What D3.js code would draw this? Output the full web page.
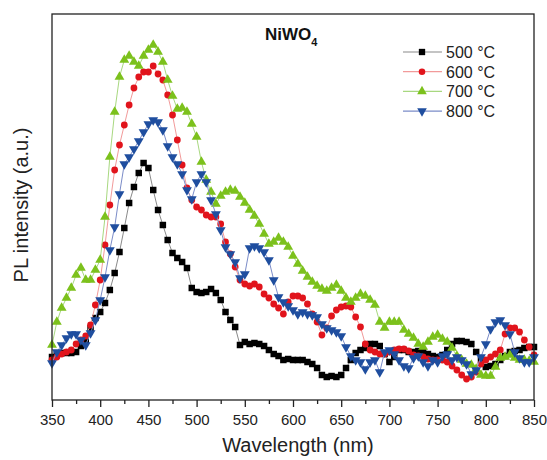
<!DOCTYPE html>
<html>
<head>
<meta charset="utf-8">
<script src="https://cdn.jsdelivr.net/npm/d3@7"></script>
<style>
  body { margin: 0; background: #fff; overflow: hidden; }
  svg { display: block; font-family: Arial, 'Liberation Sans', sans-serif; }
</style>
</head>
<body>
<div id="graf"></div>
<script>
// PL spectra NiWO4 annealed at different temperatures

// wavelength (nm), one point every 5 nm
wavelength = d3.range(350, 851, 5)

// intensity (a.u.)
s500 = [45, 47, 49, 49, 49, 50, 56, 62, 74, 84, 90, 99, 112, 129, 150, 174, 199, 215, 229, 239,
  234, 212, 192, 177, 162, 149, 144, 140, 134, 114, 110, 109, 110, 113, 109, 102, 90, 82, 75, 57,
  60, 58, 59, 58, 56, 52, 48, 46, 42, 43, 42, 42, 42, 40, 38, 34, 27, 25, 26, 25,
  27, 34, 42, 49, 52, 54, 58, 58, 56, 48, 40, 45, 52, 52, 50, 50, 51, 50, 48, 46,
  45, 47, 52, 58, 61, 61, 60, 58, 50, 42, 35, 36, 38, 42, 46, 50, 51, 52, 54, 55, 55]

s600 = [42, 45, 48, 50, 52, 58, 62, 66, 77, 97, 122, 157, 197, 232, 257, 277, 297, 314, 325, 330,
  330, 336, 328, 322, 307, 287, 262, 237, 214, 202, 195, 192, 187, 185, 185, 178, 160, 148, 135, 122,
  118, 116, 118, 115, 108, 104, 98, 94, 88, 100, 106, 106, 104, 98, 88, 80, 67, 74, 86, 92,
  95, 96, 95, 85, 75, 58, 52, 50, 48, 48, 50, 52, 53, 53, 51, 47, 46, 45, 43, 42,
  42, 42, 40, 36, 32, 27, 23, 25, 30, 38, 42, 45, 48, 52, 68, 74, 74, 70, 62, 55, 47]

s700 = [57, 80, 94, 104, 114, 127, 134, 122, 122, 132, 142, 185, 245, 290, 325, 342, 346, 340, 336, 346,
  352, 357, 350, 340, 322, 306, 293, 294, 290, 278, 265, 240, 222, 210, 198, 206, 210, 212, 211, 205,
  199, 192, 186, 178, 168, 158, 160, 164, 160, 155, 146, 138, 131, 125, 120, 116, 113, 111, 114, 117,
  111, 104, 100, 104, 108, 106, 102, 97, 80, 74, 80, 80, 80, 72, 68, 64, 58, 55, 60, 65,
  67, 63, 60, 54, 46, 42, 38, 37, 33, 27, 26, 26, 35, 44, 45, 47, 44, 42, 42, 41, 40]

s800 = [39, 50, 57, 64, 68, 68, 62, 57, 69, 82, 102, 125, 152, 175, 208, 238, 245, 253, 261, 270,
  278, 282, 280, 272, 256, 245, 238, 228, 212, 203, 220, 228, 220, 202, 188, 172, 155, 148, 140, 124,
  128, 154, 156, 154, 150, 142, 122, 105, 100, 96, 92, 88, 90, 88, 87, 85, 78, 74, 72, 70,
  66, 55, 46, 42, 40, 33, 40, 42, 30, 50, 52, 48, 42, 36, 34, 44, 46, 40, 36, 42,
  40, 46, 48, 42, 45, 42, 38, 28, 32, 45, 58, 73, 80, 82, 77, 68, 50, 44, 40, 40, 45]

labels  = ['500 °C', '600 °C', '700 °C', '800 °C']
colors  = ['#000000', '#e1141c', '#7cc11c', '#1f4e9f']
lineCol = ['#8a8a8a', '#f29a9a', '#a8d880', '#7b8cc8']
shapes  = [d3.symbolSquare, d3.symbolCircle, d3.symbolTriangle, d3.symbolTriangle]
flip    = [false, false, false, true]
xTicks  = d3.range(350, 851, 50)

series = [s500, s600, s700, s800]

ancho_total = 547
alto_total  = 460

margins = { top: 14, left: 52, right: 13, bottom: 60 }
ancho = ancho_total - margins.left - margins.right
alto  = alto_total - margins.top - margins.bottom

svg = d3.select('#graf').append('svg')
  .attr('width', ancho_total)
  .attr('height', alto_total)

g = svg.append('g')
  .attr('transform', `translate(${margins.left}, ${margins.top})`)

// scales
x = d3.scaleLinear().domain([350, 850]).range([0, ancho])
y = d3.scaleLinear().domain([2, 388]).range([alto, 0])

// curves: thin line under the markers
line = d3.line()
  .x((d, i) => x(wavelength[i]))
  .y(d => y(d))

series.forEach((s, k) => {
  g.append('path')
    .datum(s)
    .attr('d', line)
    .attr('fill', 'none')
    .attr('stroke', lineCol[k])
    .attr('stroke-width', 1)

  g.append('g')
    .selectAll('path')
    .data(s)
    .join('path')
      .attr('d', d3.symbol().type(shapes[k]).size(k == 1 ? 36 : 42))
      .attr('transform', (d, i) => `translate(${x(wavelength[i])}, ${y(d)})` + (flip[k] ? ' rotate(180)' : ''))
      .attr('fill', colors[k])
})

// frame
g.append('rect')
  .attr('x', 0)
  .attr('y', 0)
  .attr('width', ancho)
  .attr('height', alto)
  .attr('fill', 'none')
  .attr('stroke', '#222')
  .attr('stroke-width', 1.3)

// x axis, major + minor ticks outward
xAxis = d3.axisBottom(x)
  .tickValues(xTicks)
  .tickSize(7)
  .tickPadding(7)
  .tickFormat(d3.format('d'))
xMinor = d3.axisBottom(x)
  .tickValues(d3.range(375, 850, 50))
  .tickSize(4)
  .tickFormat('')

ejeX = g.append('g')
  .attr('transform', `translate(0,${alto})`)
  .call(xAxis)
ejeX.select('.domain').remove()
ejeX.selectAll('line').attr('stroke', '#222').attr('stroke-width', 1.3)
ejeX.selectAll('text')
  .attr('font-size', '15px')
  .attr('font-family', 'Arial, Liberation Sans, sans-serif')
  .attr('fill', '#222')

ejeXm = g.append('g')
  .attr('transform', `translate(0,${alto})`)
  .call(xMinor)
ejeXm.select('.domain').remove()
ejeXm.selectAll('line').attr('stroke', '#222').attr('stroke-width', 1.3)

// axis titles
svg.append('text')
  .attr('x', margins.left + ancho / 2 + 5)
  .attr('y', 452)
  .attr('text-anchor', 'middle')
  .attr('font-size', '20px')
  .attr('fill', '#222')
  .text('Wavelength (nm)')

svg.append('text')
  .attr('transform', 'translate(28, 205) rotate(-90)')
  .attr('text-anchor', 'middle')
  .attr('font-size', '20px')
  .attr('fill', '#222')
  .text('PL intensity (a.u.)')

// sample name
titulo = svg.append('text')
  .attr('x', 265)
  .attr('y', 40)
  .attr('font-size', '17px')
  .attr('font-weight', 'bold')
  .attr('fill', '#111')
titulo.append('tspan').text('NiWO')
titulo.append('tspan')
  .attr('font-size', '11px')
  .attr('dy', 6)
  .text('4')

// legend
leyenda = svg.append('g')
labels.forEach((d, k) => {
  ly = 52 + k * 19.7
  leyenda.append('line')
    .attr('x1', 403)
    .attr('x2', 442)
    .attr('y1', ly)
    .attr('y2', ly)
    .attr('stroke', lineCol[k])
    .attr('stroke-width', 1.2)
  leyenda.append('path')
    .attr('d', d3.symbol().type(shapes[k]).size(k == 1 ? 34 : 40)())
    .attr('transform', `translate(422, ${ly})` + (flip[k] ? ' rotate(180)' : ''))
    .attr('fill', colors[k])
  leyenda.append('text')
    .attr('x', 446)
    .attr('y', ly + 5.8)
    .attr('font-size', '16px')
    .attr('fill', '#222')
    .text(d)
})
</script>
</body>
</html>
